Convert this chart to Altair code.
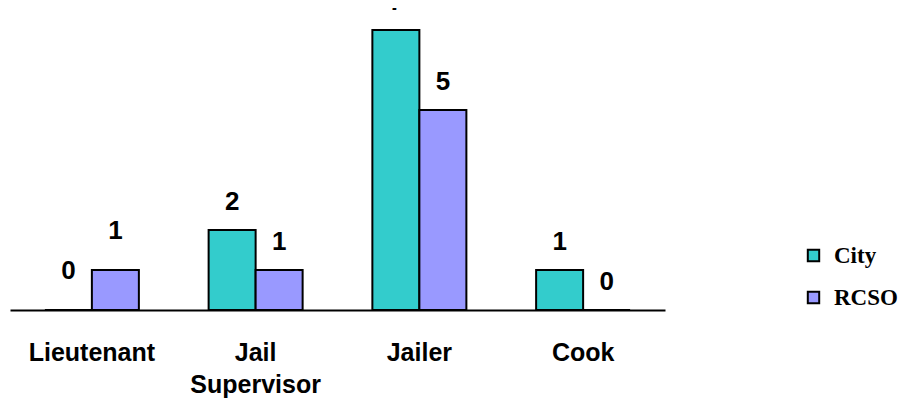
import altair as alt
import pandas as pd

categories = ["Lieutenant", "Jail Supervisor", "Jailer", "Cook"]
series_names = ["City", "RCSO"]
city_values = [0, 2, 7, 1]
rcso_values = [1, 1, 5, 0]
colors = ["#33CCCC", "#9999FF"]

rows = []
for i, c in enumerate(categories):
    rows.append({"category": c, "series": "City", "value": city_values[i]})
    rows.append({"category": c, "series": "RCSO", "value": rcso_values[i]})
df = pd.DataFrame(rows)

x_enc = alt.X(
    "category:N",
    sort=categories,
    scale=alt.Scale(paddingInner=0, paddingOuter=0),
    axis=alt.Axis(
        title=None,
        ticks=False,
        domainColor="black",
        domainWidth=2,
        labelAngle=0,
        labelFont="Liberation Sans",
        labelFontWeight="bold",
        labelFontSize=25,
        labelColor="black",
        labelPadding=30,
        labelLineHeight=32,
        labelBaseline="top",
        labelExpr="datum.value == 'Jail Supervisor' ? ['Jail', 'Supervisor'] : datum.value",
    ),
)
xoff_enc = alt.XOffset(
    "series:N",
    sort=series_names,
    scale=alt.Scale(paddingInner=0, paddingOuter=0.742),
)
y_enc = alt.Y("value:Q", scale=alt.Scale(domain=[0, 7.55], nice=False, zero=True), axis=None)

base = alt.Chart(df)

bars = base.mark_bar(stroke="black", strokeWidth=2, opacity=1).encode(
    x=x_enc,
    xOffset=xoff_enc,
    y=y_enc,
    color=alt.Color(
        "series:N",
        sort=series_names,
        scale=alt.Scale(domain=series_names, range=colors),
        legend=alt.Legend(
            title=None,
            orient="none",
            legendX=792,
            legendY=236,
            symbolType="square",
            symbolSize=130,
            symbolStrokeColor="black",
            symbolStrokeWidth=2,
            symbolOpacity=1,
            labelFont="Liberation Serif",
            labelFontWeight="bold",
            labelFontSize=23,
            labelColor="black",
            labelOffset=9,
            rowPadding=18,
            padding=0,
        ),
    ),
)

text_style = dict(font="Liberation Sans", fontWeight="bold", fontSize=26, color="black", baseline="alphabetic", align="center", clip=False)

labels_main = base.mark_text(dy=-20, **text_style).encode(
    x=x_enc, xOffset=xoff_enc, y=y_enc, text=alt.Text("value:Q")
).transform_filter("datum.category != 'Lieutenant'")

labels_lt = base.mark_text(dy=-31, **text_style).encode(
    x=x_enc, xOffset=xoff_enc, y=y_enc, text=alt.Text("value:Q")
).transform_filter("datum.category == 'Lieutenant'")

chart = (
    alt.layer(bars, labels_main, labels_lt)
    .properties(
        width=655,
        height=302,
        autosize=alt.AutoSizeParams(type="none"),
        padding={"left": 2, "top": 0, "right": 235, "bottom": 91},
    )
    .configure_view(stroke=None)
)

chart.save("out.html", embed_options={"renderer": "svg", "actions": False})
